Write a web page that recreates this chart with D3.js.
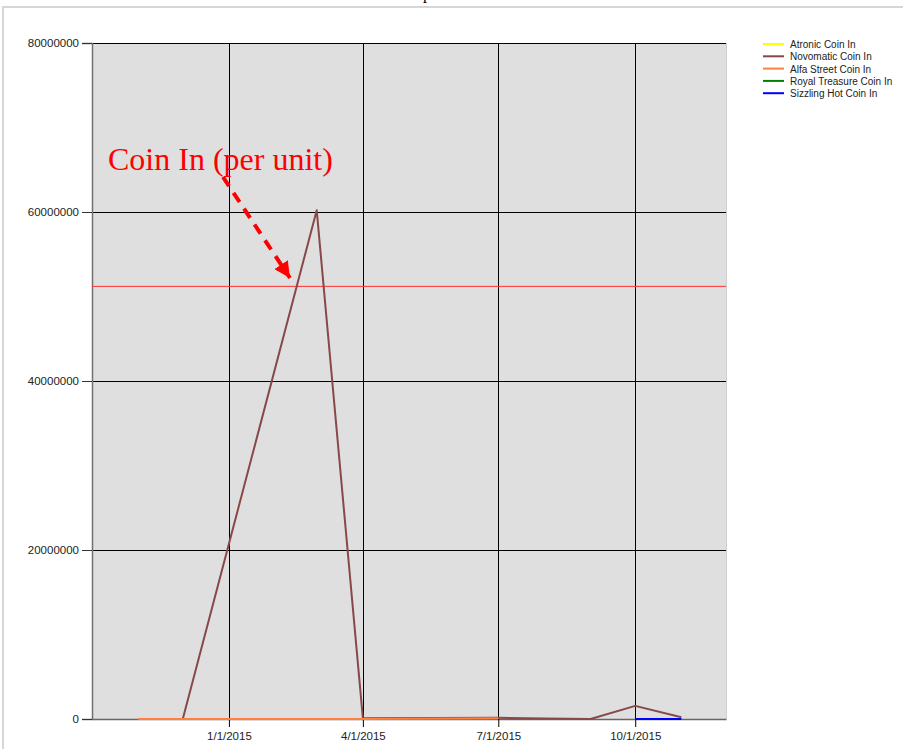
<!DOCTYPE html>
<html><head><meta charset="utf-8">
<script src="https://cdn.jsdelivr.net/npm/d3@7"></script>
<style>
html,body{margin:0;padding:0;background:#fff;}
svg{display:block;}
</style></head>
<body>
<svg id="chart" width="903" height="749"></svg>
<script>
// ---- data ----
const seriesNames = ["Atronic Coin In","Novomatic Coin In","Alfa Street Coin In","Royal Treasure Coin In","Sizzling Hot Coin In"];
const seriesColors = ["#ffff00","#884848","#ff7f3f","#008000","#0000ff"];
const atronicDates = [];
const atronicValues = [];
const novomaticDates = ["2014-11-01","2014-12-01","2015-03-01","2015-04-01","2015-07-01","2015-08-01","2015-09-01","2015-10-01","2015-11-01"];
const novomaticValues = [0,0,60200000,100000,150000,50000,0,1550000,200000];
const alfaDates = ["2014-11-01","2015-04-01","2015-07-01"];
const alfaValues = [0,0,80000];
const royalDates = [];
const royalValues = [];
const sizzlingDates = ["2015-10-01","2015-11-01"];
const sizzlingValues = [0,0];
const yTicks = [0,20000000,40000000,60000000,80000000];
const xTickDates = ["2015-01-01","2015-04-01","2015-07-01","2015-10-01"];
const xTickLabels = ["1/1/2015","4/1/2015","7/1/2015","10/1/2015"];
const refValue = 51200000;
const annotationText = "Coin In (per unit)";

const parse = d3.timeParse("%Y-%m-%d");
const series = [
  {dates: atronicDates, values: atronicValues},
  {dates: novomaticDates, values: novomaticValues},
  {dates: alfaDates, values: alfaValues},
  {dates: royalDates, values: royalValues},
  {dates: sizzlingDates, values: sizzlingValues}
].map((s,i)=>({name: seriesNames[i], color: seriesColors[i],
  pts: s.dates.map((d,j)=>({x: parse(d), y: s.values[j]}))}));

const svg = d3.select("#chart");
const L = 92, R = 726, T = 43, B = 719;

// frame
svg.append("rect").attr("x",3).attr("y",7).attr("width",1000).attr("height",1000)
  .attr("fill","none").attr("stroke","#d6d6d6").attr("stroke-width",2);
// clipped title remnant (the reference shows only the descender of the title)
svg.append("text").attr("x",427).attr("y",-1).attr("text-anchor","middle")
  .attr("font-family","Liberation Serif, serif").attr("font-size",16).attr("fill","#000").text("p");

const x = d3.scaleTime().domain([parse("2014-10-01"), parse("2015-12-01")]).range([L, R]);
const y = d3.scaleLinear().domain([0, 80000000]).range([B, T]);

svg.append("rect").attr("x",L).attr("y",T).attr("width",R-L).attr("height",B-T).attr("fill","#dfdfdf");

// grid
const grid = svg.append("g");
grid.selectAll("line.h").data(yTicks.slice(1)).enter().append("line")
  .attr("x1",L).attr("x2",R).attr("y1",d=>Math.round(y(d))+0.5).attr("y2",d=>Math.round(y(d))+0.5)
  .attr("stroke","#000").attr("stroke-width",1);
grid.selectAll("line.v").data(xTickDates).enter().append("line")
  .attr("x1",d=>Math.round(x(parse(d)))+0.5).attr("x2",d=>Math.round(x(parse(d)))+0.5)
  .attr("y1",T).attr("y2",B).attr("stroke","#000").attr("stroke-width",1);

svg.append("line").attr("x1",R+0.5).attr("x2",R+0.5).attr("y1",T).attr("y2",B).attr("stroke","#cfcfcf");

// axes
const yAxis = d3.axisLeft(y).tickValues(yTicks).tickFormat(d3.format("d")).tickSize(10).tickPadding(3);
const gy = svg.append("g").attr("transform",`translate(${L},0)`).call(yAxis);
gy.select(".domain").attr("stroke","#707070").attr("stroke-width",1.5);
gy.selectAll(".tick line").attr("stroke","#333");
gy.selectAll("text").attr("font-family","Liberation Sans, Arial, sans-serif").attr("font-size",11.5).attr("fill","#222");

const xAxis = d3.axisBottom(x).tickValues(xTickDates.map(parse))
  .tickFormat((d,i)=>xTickLabels[i]).tickSize(8).tickSizeOuter(0).tickPadding(5);
const gx = svg.append("g").attr("transform",`translate(0,${B})`).call(xAxis);
gx.select(".domain").attr("stroke","#666").attr("stroke-width",1.5);
gx.selectAll(".tick line").attr("stroke","#000");
gx.selectAll("text").attr("font-family","Liberation Sans, Arial, sans-serif").attr("font-size",11.5).attr("fill","#222");

// reference line
svg.append("line").attr("x1",L).attr("x2",R).attr("y1",y(refValue)).attr("y2",y(refValue))
  .attr("stroke","#ff3030").attr("stroke-width",1);

// series
const line = d3.line().x(d=>x(d.x)).y(d=>y(d.y));
svg.append("g").selectAll("path").data(series).enter().append("path")
  .attr("d",d=>d.pts.length ? line(d.pts) : null)
  .attr("fill","none").attr("stroke",d=>d.color).attr("stroke-width",2).attr("stroke-linejoin","round");

// annotation
svg.append("text").attr("x",108).attr("y",170)
  .attr("font-family","Liberation Serif, Times New Roman, serif").attr("font-size",32)
  .attr("fill","#ff0000").text(annotationText);
svg.append("defs").append("marker").attr("id","ah").attr("viewBox","0 0 10 10")
  .attr("refX",10).attr("refY",5).attr("markerWidth",4).attr("markerHeight",4).attr("orient","auto")
  .attr("markerUnits","strokeWidth")
  .append("path").attr("d","M0,0 L10,5 L0,10 z").attr("fill","#ff0000");
svg.append("line").attr("x1",223).attr("y1",177).attr("x2",290).attr("y2",278)
  .attr("stroke","#ff0000").attr("stroke-width",4).attr("stroke-dasharray","11,8")
  .attr("marker-end","url(#ah)");

// legend
const lg = svg.append("g").attr("transform","translate(763,44)");
seriesNames.forEach((n,i)=>{
  const g = lg.append("g").attr("transform",`translate(0,${i*12.3})`);
  g.append("line").attr("x1",0).attr("x2",21).attr("y1",0).attr("y2",0)
    .attr("stroke",seriesColors[i]).attr("stroke-width",2);
  g.append("text").attr("x",27).attr("y",4).attr("font-family","Liberation Sans, Arial, sans-serif")
    .attr("font-size",10).attr("fill","#222").text(n);
});
</script>
</body></html>
